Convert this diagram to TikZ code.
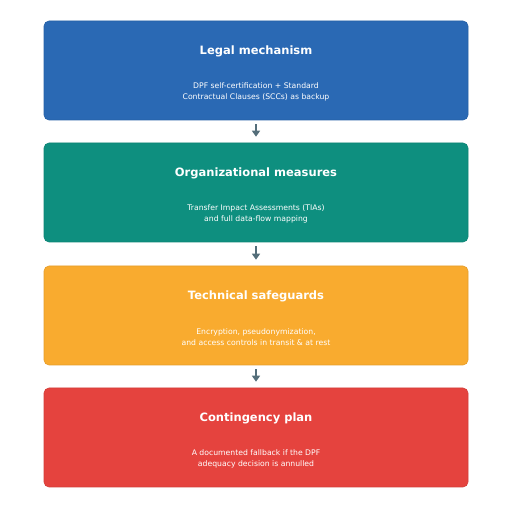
\documentclass[tikz,border=0pt]{standalone}
\usepackage{fontspec}
\setmainfont{DejaVu Sans}
\usetikzlibrary{arrows.meta}
\definecolor{cblue}{HTML}{2A69B4}
\definecolor{cteal}{HTML}{0E8F7F}
\definecolor{corange}{HTML}{F9AB2F}
\definecolor{cred}{HTML}{E5433E}
\definecolor{carrow}{HTML}{546E7A}
\begin{document}
\begin{tikzpicture}[x=1pt,y=1pt,
  stagebox/.style={rectangle, rounded corners=5pt, minimum width=424pt, minimum height=99pt, line width=0.6pt, inner sep=0pt},
  titletext/.style={text=white, font=\fontsize{11.5}{13}\selectfont\bfseries, align=center},
  bodytext/.style={text=white, font=\fontsize{7.7}{11}\selectfont, align=center},
  flow/.style={draw=carrow, line width=2pt, -{Triangle[length=6pt,width=8pt]}}]
\useasboundingbox (0,0) rectangle (512,512);
\node[stagebox, fill=cblue, draw=cblue!92!black] (b1) at (256,441.5) {};
\node[stagebox, fill=cteal, draw=cteal!92!black] (b2) at (256,319.5) {};
\node[stagebox, fill=corange, draw=corange!92!black] (b3) at (256,196.5) {};
\node[stagebox, fill=cred, draw=cred!92!black] (b4) at (256,74.5) {};
\foreach \b/\t/\l in {b1/Legal mechanism/{DPF self-certification + Standard\\Contractual Clauses (SCCs) as backup},
  b2/Organizational measures/{Transfer Impact Assessments (TIAs)\\and full data-flow mapping},
  b3/Technical safeguards/{Encryption, pseudonymization,\\and access controls in transit \& at rest},
  b4/Contingency plan/{A documented fallback if the DPF\\adequacy decision is annulled}}{
  \node[titletext] (\b t) at ([yshift=-30.5pt]\b.north) {\t};
  \node[bodytext] (\b d) at ([yshift=-71.5pt]\b.north) {\l};
}
\draw[flow] ([yshift=-4pt]b1.south) -- ([yshift=6pt]b2.north);
\draw[flow] ([yshift=-4pt]b2.south) -- ([yshift=6pt]b3.north);
\draw[flow] ([yshift=-4pt]b3.south) -- ([yshift=6pt]b4.north);
\end{tikzpicture}
\end{document}
